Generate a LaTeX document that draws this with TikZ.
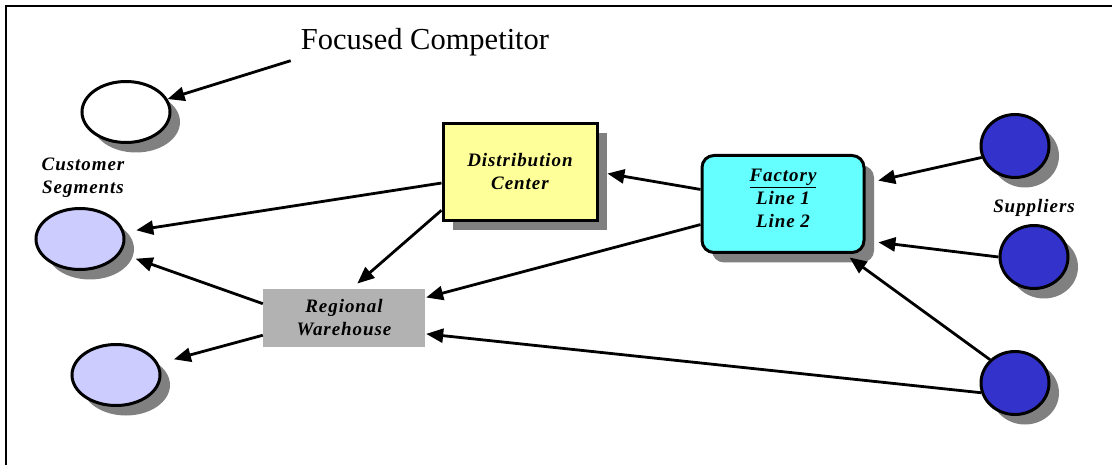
\documentclass[tikz,border=0pt]{standalone}
\usepackage{fontspec}
\setmainfont{Liberation Serif}
\newfontfamily\tagfont[LetterSpace=5]{Liberation Serif}
\usepackage{tikz}
\usetikzlibrary{positioning,shapes.geometric,shadows,arrows.meta}
\definecolor{dcyellow}{HTML}{FFFF99}
\definecolor{faccyan}{HTML}{66FFFF}
\definecolor{whgray}{HTML}{B2B2B2}
\definecolor{custlav}{HTML}{CCCCFF}
\definecolor{suppblue}{HTML}{3333CC}
\definecolor{shadowgray}{HTML}{808080}
\tikzset{
    solidshadow/.style={drop shadow={opacity=1, fill=shadowgray, shadow xshift=10pt, shadow yshift=-10pt}},
    cust/.style={ellipse, draw, line width=3pt, fill=custlav, minimum width=88pt, minimum height=61pt, inner sep=0pt, solidshadow},
    supp/.style={ellipse, draw, line width=3pt, fill=suppblue, minimum width=68pt, minimum height=63pt, inner sep=0pt, solidshadow},
    tag/.style={font=\tagfont\fontsize{19}{23}\selectfont\bfseries\itshape, align=center, inner sep=0pt},
    dcbox/.style={rectangle, draw, line width=3pt, fill=dcyellow, minimum width=154pt, minimum height=97pt, tag, solidshadow},
    facbox/.style={rectangle, rounded corners=12pt, draw, line width=3pt, fill=faccyan, minimum width=162pt, minimum height=97pt, tag, solidshadow},
    whbox/.style={rectangle, fill=whgray, minimum width=162pt, minimum height=58pt, tag},
    flow/.style={-{Triangle[length=17pt,width=14pt]}, line width=2.8pt}
}
\begin{document}
\begin{tikzpicture}[x=1pt,y=-1pt]
	\useasboundingbox (0,0) rectangle (1112,465);
	\draw[line width=2pt] (6,465) -- (6,6) -- (1112,6);

	\node[cust, fill=white] (comp) at (126,112) {};
	\node[cust] (cust1) at (80,239) {};
	\node[cust] (cust2) at (116,375) {};
	\node[supp] (sup1) at (1015,146) {};
	\node[supp] (sup2) at (1034,257) {};
	\node[supp] (sup3) at (1015,383) {};
	\node[dcbox] (dc) at (520,172) {Distribution\\Center};
	\node[facbox] (fac) at (783,204) {\underline{Factory}\\Line 1\\Line 2\\[-11pt]\mbox{}};
	\node[whbox] (rw) at (344,318) {Regional\\Warehouse};

	\node[anchor=base, inner xsep=10pt, inner ysep=4pt, font=\fontsize{30.5}{36}\selectfont] (fc) at (425,50) {Focused Competitor};
	\node[tag] (segs) at (83,178) {Customer\\Segments};
	\node[tag, anchor=base] (supps) at (1034,213) {Suppliers};

	\draw
	(fc.south west) edge[flow] (comp)
	(dc.188) edge[flow, shorten >=12pt] (cust1)
	(rw.170) edge[flow, shorten >=16pt] (cust1)
	(rw.192) edge[flow, shorten >=16pt] (cust2)
	(dc.206) edge[flow, shorten >=8pt] (rw.76)
	(fac.170) edge[flow, shorten >=9pt] (dc.east)
	(fac.194) edge[flow, shorten >=1pt] (rw.14)
	(sup1.199) edge[flow, shorten >=13pt] (fac.14)
	(sup2.west) edge[flow, shorten >=13pt] (fac.336)
	(sup3.137) edge[flow, shorten >=6pt] (fac.321)
	(sup3.196) edge[flow, shorten >=1pt] (rw.349);
\end{tikzpicture}
\end{document}
